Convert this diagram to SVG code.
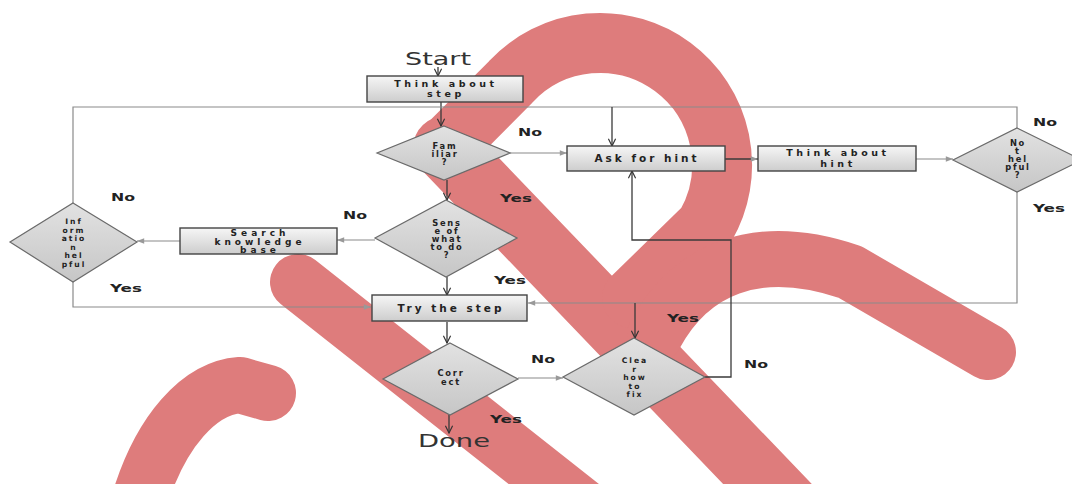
<svg xmlns="http://www.w3.org/2000/svg" width="1072" height="484" viewBox="0 0 1072 484">
<style>
.bx{fill:url(#gb);stroke:#444;stroke-width:1.4}
.dm{fill:url(#gd);stroke:#6a6a6a;stroke-width:1.2}
.t{font-family:"DejaVu Sans",sans-serif;font-weight:bold;font-size:10.5px;letter-spacing:3px;fill:#222;text-anchor:middle}
.t2{font-size:9.5px;letter-spacing:3.6px}
.s{font-size:9px;letter-spacing:4px}
.d{font-family:"DejaVu Sans",sans-serif;font-weight:bold;font-size:8.3px;letter-spacing:1.8px;fill:#222;text-anchor:middle}
.d2{font-size:7.6px;letter-spacing:2px}
.lb{font-family:"DejaVu Sans",sans-serif;font-weight:bold;font-size:10px;fill:#222;text-anchor:middle}
.big{font-family:"DejaVu Sans",sans-serif;font-size:17px;fill:#333;text-anchor:middle}
.dk{fill:none;stroke:#3a3a3a;stroke-width:1.3}
.lt{fill:none;stroke:#8a8a8a;stroke-width:1.2}
.red{fill:none;stroke:#de7c7c;stroke-linecap:round;stroke-linejoin:round}
</style>
<defs>
<linearGradient id="gb" x1="0" y1="0" x2="0" y2="1"><stop offset="0" stop-color="#f6f6f6"/><stop offset="1" stop-color="#cdcdcd"/></linearGradient>
<linearGradient id="gd" x1="0" y1="0" x2="0" y2="1"><stop offset="0" stop-color="#e2e2e2"/><stop offset="1" stop-color="#c6c6c6"/></linearGradient>
<marker id="ad" viewBox="0 0 10 10" refX="9" refY="5" markerWidth="9" markerHeight="9" markerUnits="userSpaceOnUse" orient="auto"><path d="M1,1 L9,5 L1,9" fill="none" stroke="#333" stroke-width="1.3"/></marker>
<marker id="ag" viewBox="0 0 10 10" refX="9" refY="5" markerWidth="9" markerHeight="9" markerUnits="userSpaceOnUse" orient="auto"><path d="M1,2 L9,5 L1,8 z" fill="#999"/></marker>
</defs>
<rect width="1072" height="484" fill="#ffffff"/>

<g id="overlay">
<path class="red" stroke-width="64" d="M445,148 L850,570"/>
<path class="red" stroke-width="60" d="M445,148 L510.8,81.8 A122 122 0 0 1 705.7,226 L632,298"/>
<path class="red" stroke-width="56" d="M655,335 C690,270 755,240 850,272 L988,352"/>
<path class="red" stroke-width="56" d="M298,282 L612,530"/>
<path class="red" stroke-width="56" d="M138,505 C160,430 200,388 240,385 L268,393"/>
</g>

<g id="connectors">
<line class="dk" x1="438" y1="67" x2="438" y2="76" marker-end="url(#ad)"/>
<line class="dk" x1="441" y1="102" x2="441" y2="126" marker-end="url(#ad)"/>
<polyline class="lt" points="73,203 73,107 1017,107 1017,128"/>
<line class="dk" x1="612" y1="107" x2="612" y2="146" marker-end="url(#ad)"/>
<line class="lt" x1="510" y1="153" x2="567" y2="153" marker-end="url(#ag)"/>
<line class="dk" x1="725" y1="159" x2="758" y2="159" marker-end="url(#ag)"/>
<line class="lt" x1="916" y1="159" x2="953" y2="159" marker-end="url(#ag)"/>
<polyline class="lt" points="1017,192 1017,303 528,303" marker-end="url(#ag)"/>
<line class="dk" x1="635" y1="303" x2="635" y2="338" marker-end="url(#ad)"/>
<line class="dk" x1="447" y1="180" x2="447" y2="200" marker-end="url(#ad)"/>
<line class="lt" x1="375" y1="240" x2="337" y2="240" marker-end="url(#ag)"/>
<line class="lt" x1="180" y1="241" x2="137" y2="241" marker-end="url(#ag)"/>
<polyline class="lt" points="73,282 73,307 371,307" marker-end="url(#ag)"/>
<line class="dk" x1="447" y1="277" x2="447" y2="295" marker-end="url(#ad)"/>
<line class="dk" x1="447" y1="322" x2="447" y2="343" marker-end="url(#ad)"/>
<line class="lt" x1="518" y1="378" x2="563" y2="378" marker-end="url(#ag)"/>
<polyline class="dk" points="705,377 731,377 731,240 632,240 632,171" marker-end="url(#ad)"/>
<line class="dk" x1="449" y1="415" x2="449" y2="433" marker-end="url(#ad)"/>
<text class="lb" x="530" y="136" textLength="24" lengthAdjust="spacingAndGlyphs">No</text>
<text class="lb" x="516" y="202" textLength="32" lengthAdjust="spacingAndGlyphs">Yes</text>
<text class="lb" x="355" y="219" textLength="24" lengthAdjust="spacingAndGlyphs">No</text>
<text class="lb" x="510" y="284" textLength="32" lengthAdjust="spacingAndGlyphs">Yes</text>
<text class="lb" x="123" y="201" textLength="24" lengthAdjust="spacingAndGlyphs">No</text>
<text class="lb" x="126" y="292" textLength="32" lengthAdjust="spacingAndGlyphs">Yes</text>
<text class="lb" x="1045" y="126" textLength="24" lengthAdjust="spacingAndGlyphs">No</text>
<text class="lb" x="1049" y="212" textLength="32" lengthAdjust="spacingAndGlyphs">Yes</text>
<text class="lb" x="683" y="322" textLength="32" lengthAdjust="spacingAndGlyphs">Yes</text>
<text class="lb" x="756" y="368" textLength="24" lengthAdjust="spacingAndGlyphs">No</text>
<text class="lb" x="543" y="363" textLength="24" lengthAdjust="spacingAndGlyphs">No</text>
<text class="lb" x="506" y="423" textLength="32" lengthAdjust="spacingAndGlyphs">Yes</text>
</g>

<g id="start"><text class="big" x="438" y="65" textLength="66" lengthAdjust="spacingAndGlyphs">Start</text></g>
<g id="think-step"><rect class="bx" x="367" y="76" width="156" height="26"/><text class="t t2" x="446" y="86.5">Think about</text><text class="t t2" x="446" y="97">step</text></g>
<g id="familiar"><polygon class="dm" points="444,126 510,153 444,180 377,153"/><text class="d" x="445" y="149">Fam</text><text class="d" x="445" y="157">iliar</text><text class="d" x="445" y="165">?</text></g>
<g id="ask-hint"><rect class="bx" x="567" y="146" width="158" height="25"/><text class="t" x="647" y="162">Ask for hint</text></g>
<g id="think-hint"><rect class="bx" x="758" y="146" width="158" height="25"/><text class="t t2" x="838" y="156">Think about</text><text class="t t2" x="838" y="166.5">hint</text></g>
<g id="not-helpful"><polygon class="dm" points="1017,128 1082,160 1017,192 953,160"/><text class="d" x="1018" y="146">No</text><text class="d" x="1018" y="154">t</text><text class="d" x="1018" y="162">hel</text><text class="d" x="1018" y="170">pful</text><text class="d" x="1018" y="178">?</text></g>
<g id="sense"><polygon class="dm" points="446,200 517,238 446,277 375,238"/><text class="d" x="447" y="226">Sens</text><text class="d" x="447" y="234">e of</text><text class="d" x="447" y="242">what</text><text class="d" x="447" y="250">to do</text><text class="d" x="447" y="258">?</text></g>
<g id="search"><rect class="bx" x="180" y="228" width="157" height="26"/><text class="t s" x="260" y="236">Search</text><text class="t s" x="260" y="244.5">knowledge</text><text class="t s" x="260" y="253">base</text></g>
<g id="info-helpful"><polygon class="dm" points="73,203 137,242 73,282 10,242"/><text class="d d2" x="74" y="224">Inf</text><text class="d d2" x="74" y="232.5">orm</text><text class="d d2" x="74" y="241">atio</text><text class="d d2" x="74" y="249.5">n</text><text class="d d2" x="74" y="258">hel</text><text class="d d2" x="74" y="266.5">pful</text></g>
<g id="try-step"><rect class="bx" x="372" y="295" width="155" height="26"/><text class="t" x="451" y="312">Try the step</text></g>
<g id="correct"><polygon class="dm" points="450,343 518,379 450,415 383,379"/><text class="d" x="451" y="376">Corr</text><text class="d" x="451" y="385">ect</text></g>
<g id="clear"><polygon class="dm" points="634,338 705,377 634,415 563,377"/><text class="d d2" x="635" y="363">Clea</text><text class="d d2" x="635" y="371.5">r</text><text class="d d2" x="635" y="380">how</text><text class="d d2" x="635" y="388.5">to</text><text class="d d2" x="635" y="397">fix</text></g>
<g id="done"><text class="big" x="454" y="447" textLength="72" lengthAdjust="spacingAndGlyphs">Done</text></g>
</svg>
